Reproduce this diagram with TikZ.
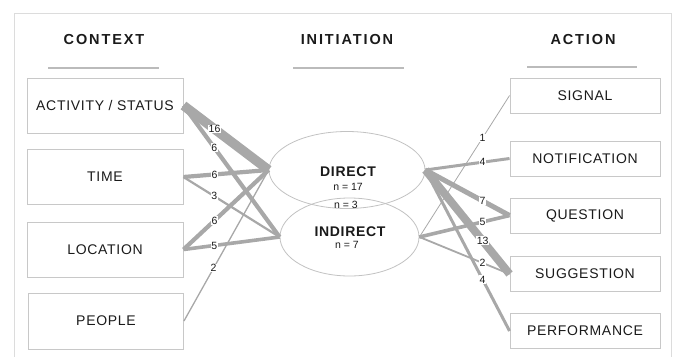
\documentclass[tikz,border=0pt]{standalone}
\usepackage{fontspec}
\setmainfont{Liberation Sans}
\newfontfamily\boxfont[LetterSpace=5]{Liberation Sans}
\newfontfamily\headfont[LetterSpace=13]{Liberation Sans}
\usetikzlibrary{shapes.geometric}
\definecolor{txt}{HTML}{1A1A1A}
\definecolor{boxgray}{HTML}{C8C8C8}
\definecolor{ellgray}{HTML}{C2C2C2}
\definecolor{flowgray}{HTML}{A8A8A8}
\definecolor{framegray}{HTML}{DCDCDC}
\definecolor{rulegray}{HTML}{BBBBBB}
\begin{document}
\begin{tikzpicture}[x=1pt,y=-1pt,
  box/.style={draw=boxgray, line width=0.9pt, minimum width=156pt, minimum height=55pt, inner sep=0pt, font=\boxfont\fontsize{14}{16}\selectfont, text=txt},
  rbox/.style={box, minimum width=150pt, minimum height=35pt},
  head/.style={font=\headfont\bfseries\fontsize{14.5}{16}\selectfont, text=txt, inner sep=0pt},
  ell/.style={ellipse, draw=ellgray, line width=0.8pt, inner sep=0pt},
  etext/.style={font=\boxfont\bfseries\fontsize{14}{16}\selectfont, text=txt, inner sep=0pt},
  ntext/.style={font=\fontsize{10.5}{11}\selectfont, text=txt, inner sep=0pt},
  flow/.style={draw=flowgray, line cap=butt},
  num/.style={fill=white, inner sep=0.6pt, font=\fontsize{10.5}{11}\selectfont, text=txt},
  rule/.style={draw=rulegray, line width=1.2pt},
]
\useasboundingbox (0,0) rectangle (676,356);
\clip (0,0) rectangle (676,356);
% frame
\draw[draw=framegray, line width=1pt] (14,362) -- (14,13) -- (671,13) -- (671,362);
% headers
\node[head] (hctx) at (104,40) {CONTEXT};
\node[head] (hini) at (347,40) {INITIATION};
\node[head] (hact) at (583,40) {ACTION};
\coordinate (u1a) at (48,68); \coordinate (u1b) at (159,68);
\coordinate (u2a) at (293,68); \coordinate (u2b) at (404,68);
\coordinate (u3a) at (527,67); \coordinate (u3b) at (637,67);
\draw[rule] (u1a) -- (u1b);
\draw[rule] (u2a) -- (u2b);
\draw[rule] (u3a) -- (u3b);
% left boxes
\node[box] (act) at (105,105.5) {ACTIVITY / STATUS};
\node[box] (time) at (105,177) {TIME};
\node[box] (loc) at (105,249.5) {LOCATION};
\node[box, minimum width=155pt, minimum height=56pt] (people) at (106,321) {PEOPLE};
% right boxes
\node[rbox] (signal) at (585,95.5) {SIGNAL};
\node[rbox] (notif) at (585,158.5) {NOTIFICATION};
\node[rbox] (quest) at (585,215.5) {QUESTION};
\node[rbox] (sugg) at (585,274) {SUGGESTION};
\node[rbox] (perf) at (585,331) {PERFORMANCE};
% ellipses
\node[ell, minimum width=156pt, minimum height=77pt] (direct) at (347,170) {};
\node[ell, minimum width=139pt, minimum height=78pt] (indirect) at (349.5,237) {};
\node[etext] (tdirect) at (348,172) {DIRECT};
\node[ntext] (n17) at (348,187) {n = 17};
\node[ntext] (n3) at (346,205) {n = 3};
\node[etext] (tindirect) at (350,232) {INDIRECT};
\node[ntext] (n7) at (347,245) {n = 7};
% left flows
\draw[flow, line width=9.5pt] (act.east) -- node[num,pos=.365]{16} (direct.west);
\draw[flow, line width=4.2pt] (act.east) -- node[num,pos=.32]{6} (indirect.west);
\draw[flow, line width=4.2pt] (time.east) -- node[num,pos=.365]{6} (direct.west);
\draw[flow, line width=2.2pt] (time.east) -- node[num,pos=.32]{3} (indirect.west);
\draw[flow, line width=4.2pt] (loc.east) -- node[num,pos=.365]{6} (direct.west);
\draw[flow, line width=3.6pt] (loc.east) -- node[num,pos=.32]{5} (indirect.west);
\draw[flow, line width=1.3pt] (people.east) -- node[num,pos=.35]{2} (direct.west);
% right flows
\draw[flow, line width=0.8pt] (indirect.east) -- node[num,pos=.70]{1} (signal.west);
\draw[flow, line width=3pt] (direct.east) -- node[num,pos=.68]{4} (notif.west);
\draw[flow, line width=5pt] (direct.east) -- node[num,pos=.68]{7} (quest.west);
\draw[flow, line width=3.6pt] (indirect.east) -- node[num,pos=.70]{5} (quest.west);
\draw[flow, line width=8pt] (direct.east) -- node[num,pos=.68]{13} (sugg.west);
\draw[flow, line width=1.8pt] (indirect.east) -- node[num,pos=.70]{2} (sugg.west);
\draw[flow, line width=3pt] (direct.east) -- node[num,pos=.68]{4} (perf.west);
\end{tikzpicture}
\end{document}
